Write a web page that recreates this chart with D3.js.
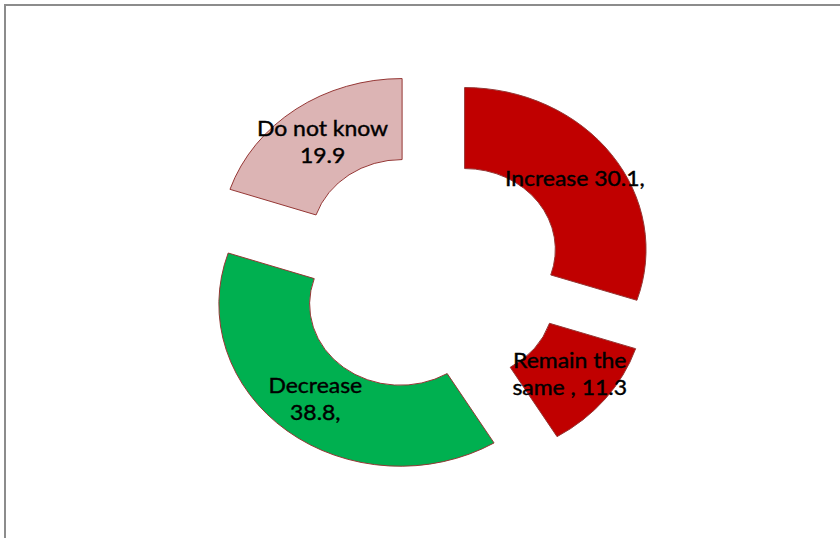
<!DOCTYPE html>
<html>
<head>
<meta charset="utf-8">
<script src="https://cdn.jsdelivr.net/npm/d3@7"></script>
<style>
  html, body { margin: 0; padding: 0; background: #fff; }
  svg { display: block; }
</style>
</head>
<body>
<svg id="chart" width="840" height="538"></svg>
<script>
// Expected change in the indicator (percent of respondents)
const categories = ["Increase", "Remain the same", "Decrease", "Do not know"];
const values = [30.1, 11.3, 38.8, 19.9];
// Data-label lines: category text, then the value
const labelLines = [
  ["Increase " + values[0] + ","],
  ["Remain the", "same , " + values[1]],
  ["Decrease", values[2] + ","],
  ["Do not know", String(values[3])]
];
const colors = ["#C00000", "#C00000", "#00B050", "#DCB4B4"];

const W = 840, H = 538;
const cx = 428.3, cy = 273;      // centre of the ring
const outerR = 162, innerR = 81; // ring radii
const explode = 40;              // distance each slice is pulled out
const stretchX = 1.12;           // horizontal stretch of the plot area

const svg = d3.select("#chart");

// chart frame
svg.append("rect")
  .attr("x", 5).attr("y", 5)
  .attr("width", W + 10).attr("height", H + 10)
  .attr("fill", "none")
  .attr("stroke", "#8c8c8c")
  .attr("stroke-width", 2);

const pie = d3.pie().sort(null).value(d => d)(values);
const arc = d3.arc().innerRadius(innerR).outerRadius(outerR);
const labelArc = d3.arc().innerRadius((innerR + outerR) / 2).outerRadius((innerR + outerR) / 2);

const plot = svg.append("g")
  .attr("transform", `translate(${cx},${cy}) scale(${stretchX},1)`);

const slices = plot.selectAll("g.slice")
  .data(pie)
  .join("g")
  .attr("class", "slice")
  .attr("transform", d => {
    const a = (d.startAngle + d.endAngle) / 2;
    return `translate(${Math.sin(a) * explode},${-Math.cos(a) * explode})`;
  });

slices.append("path")
  .attr("d", arc)
  .attr("fill", (d, i) => colors[i])
  .attr("stroke", "#953735")
  .attr("stroke-width", 1)
  .attr("vector-effect", "non-scaling-stroke");

const lineH = 26.7;
slices.each(function (d, i) {
  const [lx, ly] = labelArc.centroid(d);
  const lines = labelLines[i];
  const t = d3.select(this).append("text")
    .attr("x", lx)
    .attr("y", ly)
    .attr("text-anchor", "middle")
    .attr("font-family", "Lato, 'Open Sans', sans-serif")
    .attr("font-size", 20.5)
    .attr("fill", "#000")
    .attr("stroke", "#000")
    .attr("stroke-width", 0.4);
  const first = -(lines.length - 1) / 2 * lineH;
  lines.forEach((s, k) => {
    t.append("tspan")
      .attr("x", lx)
      .attr("dy", k === 0 ? first + 7.5 : lineH)
      .text(s);
  });
});
</script>
</body>
</html>
